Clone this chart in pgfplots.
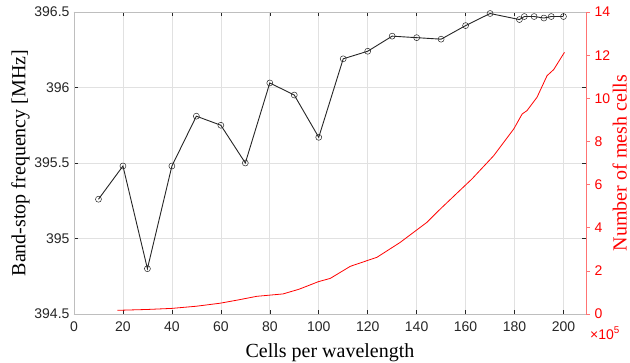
\documentclass[border=0pt]{standalone}
\usepackage{fontspec}
\setmainfont{Liberation Serif}
\newfontfamily\arial{Liberation Sans}
\usepackage{pgfplots}
\pgfplotsset{compat=1.18}
\definecolor{axgray}{RGB}{190,190,190}
\definecolor{gridgray}{RGB}{225,225,225}
\definecolor{lblack}{RGB}{38,38,38}
\begin{document}
\begin{tikzpicture}
\useasboundingbox (-74pt,-49pt) rectangle (556pt,314pt);
\clip (-74pt,-49pt) rectangle (556pt,314pt);
\begin{axis}[
  at={(0pt,0pt)}, anchor=south west,
  scale only axis, width=512pt, height=302pt,
  xmin=0, xmax=209.2, ymin=394.5, ymax=396.5,
  xtick={0,20,...,200}, ytick={394.5,395,395.5,396,396.5},
  xtick pos=both, ytick pos=both,
  xticklabel pos=lower, yticklabel pos=left,
  axis line style={axgray, line width=0.8pt},
  grid=major, grid style={gridgray, line width=0.6pt},
  tick align=inside, major tick length=4pt,
  tick style={lblack, line width=0.5pt},
  /pgf/number format/assume math mode=true,
  /pgf/number format/fixed,
  ticklabel style={font=\arial\fontsize{14}{14}\selectfont, text=lblack},
  xticklabel style={yshift=-4pt},
  yticklabel style={xshift=-1pt},
  xlabel={Cells per wavelength},
  ylabel={Band-stop frequency [MHz]},
  label style={font=\fontsize{20}{20}\selectfont, text=black},
  xlabel style={at={(axis description cs:0.5,0)}, anchor=base, yshift=-44pt},
  ylabel style={at={(axis description cs:0,0.5)}, anchor=north, yshift=63pt, inner sep=0pt},
]
\addplot[lblack, line width=0.9pt, mark=o, mark size=3pt, mark options={line width=0.5pt}] coordinates {
(10,395.26) (20,395.48) (30,394.80) (40,395.48) (50,395.81) (60,395.75)
(70,395.50) (80,396.03) (90,395.95) (100,395.67) (110,396.19) (120,396.24)
(130,396.34) (140,396.33) (150,396.32) (160,396.41) (170,396.49)
(182,396.45) (184,396.47) (188,396.47) (192,396.46) (195,396.47) (200,396.47)
};
\end{axis}
\begin{axis}[
  at={(0pt,0pt)}, anchor=south west,
  scale only axis, width=512pt, height=302pt,
  xmin=0, xmax=209.2, ymin=0, ymax=14,
  ytick={0,2,...,14},
  axis y line*=right, axis x line=none,
  y axis line style={red!55, line width=0.8pt},
  tick align=outside, major tick length=4pt,
  ytick style={red!55, line width=0.6pt},
  /pgf/number format/assume math mode=true,
  yticklabel style={font=\arial\fontsize{14}{14}\selectfont, text=red, xshift=1pt},
  ylabel={Number of mesh cells},
  ylabel style={font=\fontsize{20}{20}\selectfont, text=red, at={(axis description cs:1,0.5)}, anchor=south, yshift=-41pt, inner sep=0pt},
]
\addplot[red, line width=0.8pt, no marks] coordinates {
(17.7,0.17) (30,0.21) (40,0.26) (50,0.36) (59.7,0.50) (67,0.65) (74.7,0.82)
(85.4,0.93) (92,1.15) (99.9,1.50) (104.7,1.65) (112.9,2.21) (123.8,2.63)
(133.3,3.32) (144.2,4.25) (149.7,4.87) (156,5.55) (162.6,6.26) (171.5,7.34)
(179.7,8.58) (183.1,9.27) (185.1,9.43) (189.2,10.05) (193.3,11.05)
(196,11.33) (200.4,12.13)
};
\end{axis}
\node[anchor=north west, red, font=\arial\fontsize{14}{14}\selectfont, inner sep=0pt] at (516pt,-13pt) {×10\textsuperscript{5}};
\end{tikzpicture}
\end{document}
